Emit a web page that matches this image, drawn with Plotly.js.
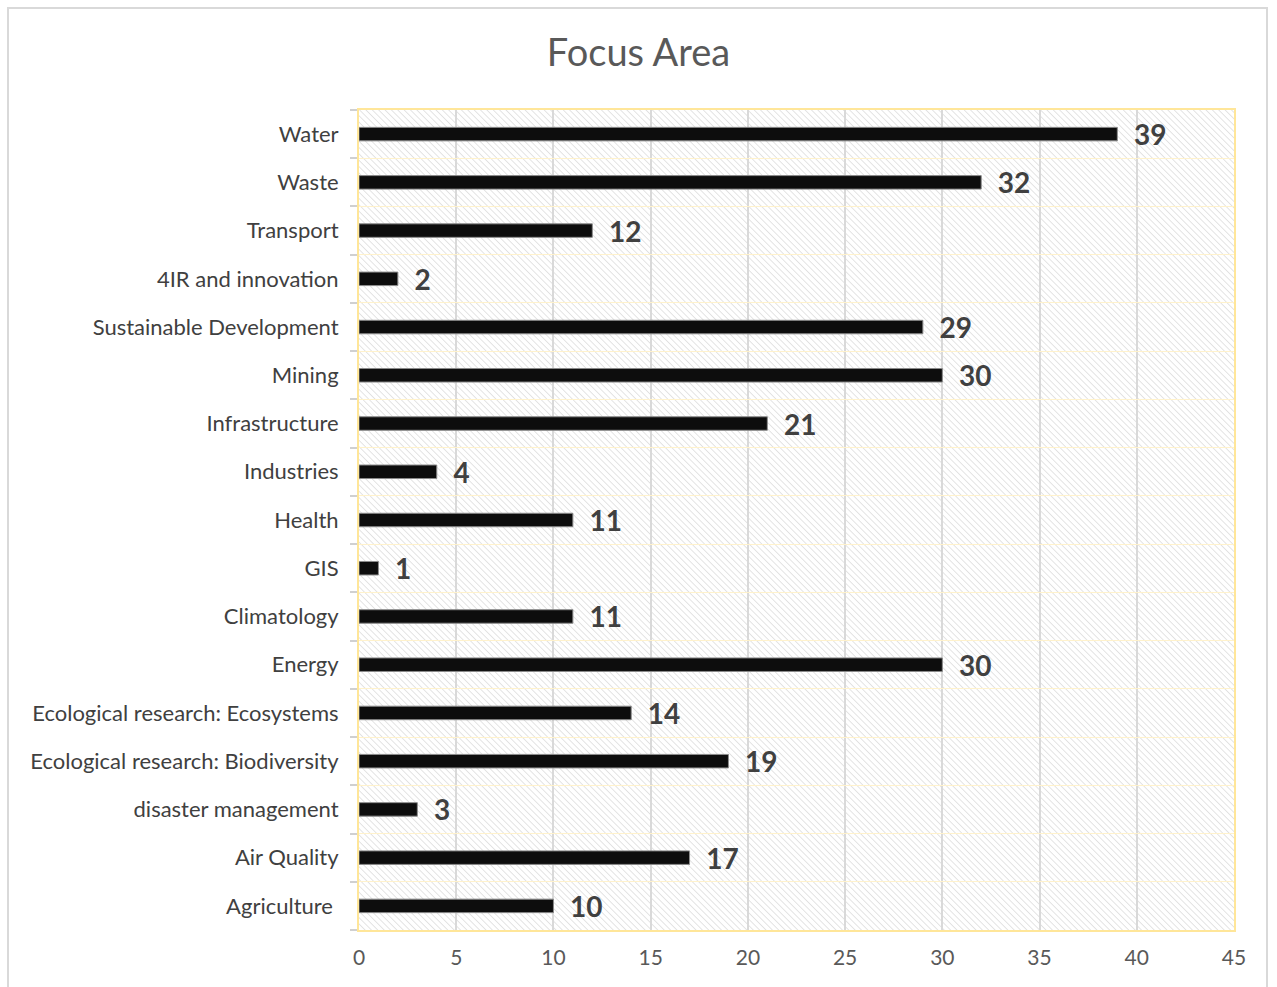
<!DOCTYPE html>
<html>
<head>
<meta charset="utf-8">
<script src="https://cdn.plot.ly/plotly-3.0.1.min.js"></script>
<style>
  body { margin: 0; background: #fff; }
  #wrap { position: relative; width: 1277px; height: 987px; }
  #chart { width: 1277px; height: 987px; }
  #frame { position: absolute; left: 7px; top: 7px; width: 1261px; height: 985px; border: 2px solid #d9d9d9; box-sizing: border-box; pointer-events: none; }
</style>
</head>
<body>
<div id="wrap">
  <div id="chart"></div>
  <div id="frame"></div>
</div>
<script>
const categories = [
  "Agriculture ", "Air Quality", "disaster management", "Ecological research: Biodiversity",
  "Ecological research: Ecosystems", "Energy", "Climatology", "GIS", "Health", "Industries",
  "Infrastructure", "Mining", "Sustainable Development", "4IR and innovation", "Transport",
  "Waste", "Water"
];
const values = [10, 17, 3, 19, 14, 30, 11, 1, 11, 4, 21, 30, 29, 2, 12, 32, 39];
const xTicks = [0, 5, 10, 15, 20, 25, 30, 35, 40, 45];

const margin = { l: 359, r: 43, t: 110, b: 57 };
const plotW = 1277 - margin.l - margin.r;
const plotH = 987 - margin.t - margin.b;

const hatchSvg = `<svg xmlns="http://www.w3.org/2000/svg" width="${plotW}" height="${plotH}"><defs><pattern id="p" width="4.5" height="4.5" patternUnits="userSpaceOnUse" patternTransform="rotate(-45)"><rect width="4.5" height="4.5" fill="#ffffff"/><line x1="0" y1="0" x2="0" y2="4.5" stroke="#d9d9d9" stroke-width="1.4"/></pattern></defs><rect width="100%" height="100%" fill="url(#p)"/></svg>`;
const hatch = "data:image/svg+xml;utf8," + encodeURIComponent(hatchSvg);

const trace = {
  type: "bar",
  orientation: "h",
  y: categories,
  x: values,
  marker: { color: "#0d0d0d", line: { color: "#8c8c8c", width: 1 } },
  text: values.map(v => "  " + v),
  textposition: "outside",
  constraintext: "none",
  cliponaxis: false,
  textfont: { family: "Lato, 'Open Sans', sans-serif", size: 28, color: "#404040", weight: "bold" },
  hoverinfo: "none"
};

const layout = {
  width: 1277,
  height: 987,
  margin: margin,
  paper_bgcolor: "rgba(0,0,0,0)",
  plot_bgcolor: "#ffffff",
  font: { family: "Lato, 'Open Sans', sans-serif", color: "#595959" },
  title: {
    text: "Focus Area",
    font: { size: 38, color: "#595959", family: "Lato, 'Open Sans', sans-serif" },
    x: 0.5, xanchor: "center",
    y: 1 - 53 / 987, yanchor: "middle"
  },
  bargap: 0.72,
  showlegend: false,
  xaxis: {
    range: [0, 45],
    tickvals: xTicks,
    ticktext: xTicks.map(String),
    showgrid: true,
    gridcolor: "#d9d9d9",
    gridwidth: 2,
    zeroline: false,
    showline: true,
    linecolor: "#ffe699",
    linewidth: 2,
    mirror: true,
    ticks: "",
    tickfont: { size: 21, color: "#595959" },
    ticklabelstandoff: 8,
    fixedrange: true
  },
  yaxis: {
    type: "category",
    categoryorder: "array",
    categoryarray: categories,
    tickson: "boundaries",
    showgrid: true,
    gridcolor: "#fff2cc",
    gridwidth: 1,
    showline: true,
    linecolor: "#ffe699",
    linewidth: 2,
    mirror: true,
    ticks: "outside",
    ticklen: 7,
    tickcolor: "#d0d0d0",
    tickwidth: 2,
    tickfont: { size: 22, color: "#404040" },
    ticklabelstandoff: 14,
    fixedrange: true
  },
  images: [{
    source: hatch,
    xref: "paper", yref: "paper",
    x: 0, y: 1, sizex: 1, sizey: 1,
    xanchor: "left", yanchor: "top",
    sizing: "stretch",
    layer: "below"
  }]
};

Plotly.newPlot("chart", [trace], layout, { displayModeBar: false, staticPlot: true });
</script>
</body>
</html>
